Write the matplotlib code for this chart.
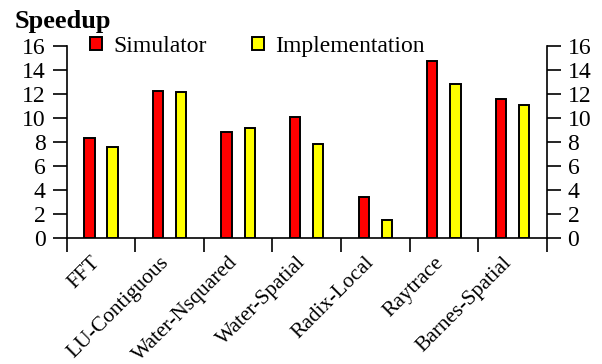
import matplotlib
matplotlib.use("Agg")
import matplotlib.pyplot as plt
import numpy as np

benchmarks = ["FFT", "LU-Contiguous", "Water-Nsquared", "Water-Spatial",
              "Radix-Local", "Raytrace", "Barnes-Spatial"]
simulator = [8.3, 12.25, 8.85, 10.05, 3.4, 14.75, 11.55]
implementation = [7.6, 12.2, 9.15, 7.85, 1.45, 12.8, 11.05]
y_ticks = [0, 2, 4, 6, 8, 10, 12, 14, 16]

plt.rcParams["font.family"] = ["Liberation Serif", "DejaVu Serif"]
plt.rcParams["font.size"] = 17

fig = plt.figure(figsize=(6.02, 3.64), dpi=100)
ax = fig.add_axes([66.7 / 602, 1 - 237.7 / 364, 480 / 602, (237.7 - 46) / 364])

x = np.arange(len(benchmarks))
w = 0.15
off = 0.168
ax.bar(x - off, simulator, w, color="#ff0000", edgecolor="black", linewidth=1.4,
       label="Simulator", zorder=3)
ax.bar(x + off, implementation, w, color="#ffff00", edgecolor="black", linewidth=1.4,
       label="Implementation", zorder=3)

ax.set_xlim(-0.5, len(benchmarks) - 0.5)
ax.set_ylim(0, 16)
ax.set_yticks(y_ticks)

# group separators as major ticks, names at group centres
ax.set_xticks(np.arange(len(benchmarks) + 1) - 0.5)
ax.set_xticklabels([])
ax.set_xticks(x - 0.05, minor=True)
ax.set_xticklabels(benchmarks, minor=True, rotation=45, ha="right",
                   rotation_mode="anchor", va="center", fontsize=15.5)
ax.tick_params(axis="x", which="minor", length=0, pad=16)
ax.tick_params(axis="x", which="major", direction="out", length=10, width=1.2)
ax.tick_params(axis="y", direction="out", length=10, width=1.2, pad=5,
               right=True, labelright=True)

ax.spines["top"].set_visible(False)
for s in ("left", "right", "bottom"):
    ax.spines[s].set_linewidth(1.2)

fig.legend(loc="center left", bbox_to_anchor=(90 / 602, 1 - 46.5 / 364),
           ncol=2, frameon=False, borderpad=0, borderaxespad=0,
           handlelength=0.5, handleheight=0.5, handletextpad=0.5,
           columnspacing=1.9, fontsize=17)

fig.text(15 / 602, 1 - 28 / 364, "Speedup", fontweight="bold", ha="left",
         va="baseline", fontsize=19)

fig.savefig("out.png", dpi=100)
